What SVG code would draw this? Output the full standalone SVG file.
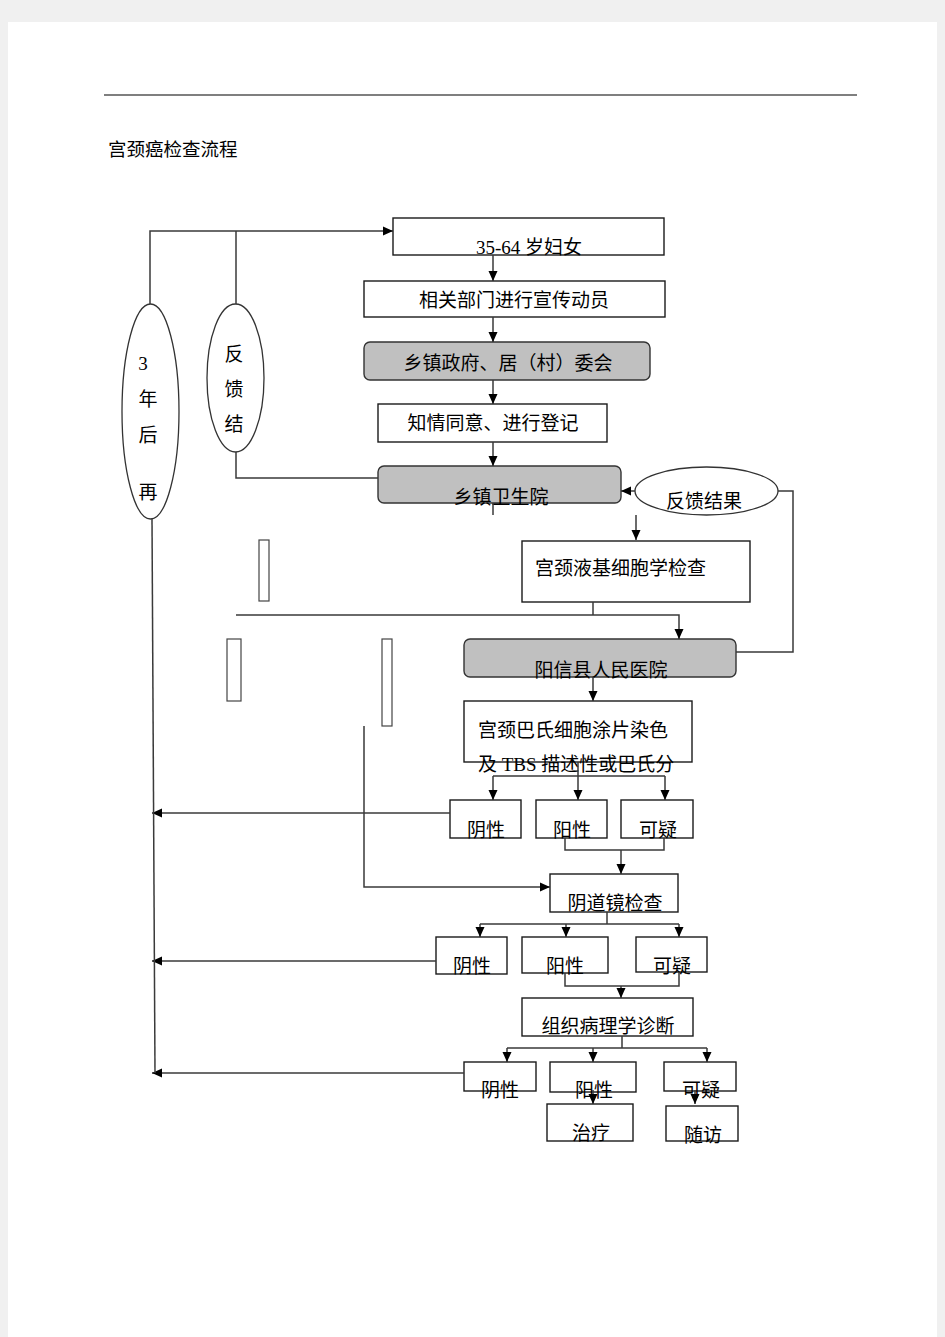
<svg xmlns="http://www.w3.org/2000/svg" width="945" height="1337" viewBox="0 0 945 1337">
<style>
.bg{fill:#f0f0f0}
.page{fill:#ffffff}
.box{fill:#ffffff;stroke:#1a1a1a;stroke-width:1.4}
.gbox{fill:#c0c0c0;stroke:#333333;stroke-width:1.4}
.thin{fill:#ffffff;stroke:#444444;stroke-width:1.2}
.t{font-family:"Liberation Serif","Noto Sans CJK SC",serif;font-size:19px;fill:#000000}
.c{text-anchor:middle}
.ln{fill:none;stroke:#3a3a3a;stroke-width:1.5}
.ar{fill:none;stroke:#3a3a3a;stroke-width:1.5;marker-end:url(#arr)}
</style>
<defs>
<marker id="arr" markerUnits="userSpaceOnUse" markerWidth="10" markerHeight="10" refX="10" refY="5" orient="auto">
<path d="M0,0.5 L10,5 L0,9.5 z" fill="#000000"/>
</marker>
</defs>
<rect class="bg" x="0" y="0" width="945" height="1337"/>
<rect class="page" x="8" y="22" width="929" height="1315"/>
<line x1="104" y1="95" x2="857" y2="95" stroke="#000" stroke-width="1.2"/>
<text class="t" x="108" y="156" style="font-size:18.5px">宫颈癌检查流程</text>

<g id="n_women"><rect class="box" x="393" y="218" width="271" height="37"/><text class="t c" x="529" y="254">35-64 岁妇女</text></g>
<g id="n_publicity"><rect class="box" x="364" y="281" width="301" height="36"/><text class="t c" x="514" y="307">相关部门进行宣传动员</text></g>
<g id="n_gov"><rect class="gbox" x="364" y="342" width="286" height="38" rx="6"/><text class="t c" x="508" y="370">乡镇政府、居（村）委会</text></g>
<g id="n_consent"><rect class="box" x="378" y="404" width="229" height="38"/><text class="t c" x="493" y="430">知情同意、进行登记</text></g>
<g id="n_township"><rect class="gbox" x="378" y="466" width="243" height="37" rx="6"/><text class="t c" x="501" y="504">乡镇卫生院</text></g>
<g id="n_feedback_result"><ellipse cx="706.5" cy="491" rx="71.5" ry="24" fill="#fff" stroke="#333" stroke-width="1.3"/><text class="t c" x="704" y="508">反馈结果</text></g>
<g id="n_three_years"><ellipse cx="150.5" cy="411.5" rx="28.5" ry="107.5" fill="#fff" stroke="#333" stroke-width="1.3"/>
<text class="t c" x="143" y="370">3</text><text class="t c" x="148" y="406">年</text><text class="t c" x="148" y="442">后</text><text class="t c" x="148" y="499">再</text></g>
<g id="n_feedback"><ellipse cx="235.5" cy="378" rx="28.5" ry="74" fill="#fff" stroke="#333" stroke-width="1.3"/>
<text class="t c" x="234" y="361">反</text><text class="t c" x="234" y="396">馈</text><text class="t c" x="234" y="431">结</text></g>
<g id="n_lbc"><rect class="box" x="522" y="541" width="228" height="61"/><text class="t" x="535" y="575">宫颈液基细胞学检查</text></g>
<g id="n_bar1"><rect class="thin" x="259" y="540" width="10" height="61"/></g>
<g id="n_bar2"><rect class="thin" x="227" y="639" width="14" height="62"/></g>
<g id="n_bar3"><rect class="thin" x="382" y="639" width="10" height="87"/></g>
<g id="n_county"><rect class="gbox" x="464" y="639" width="272" height="38" rx="6"/><text class="t c" x="601" y="677">阳信县人民医院</text></g>
<g id="n_pap"><rect class="box" x="464" y="701" width="228" height="61"/><text class="t" x="478" y="737">宫颈巴氏细胞涂片染色</text><text class="t" x="478" y="771">及 TBS 描述性或巴氏分</text></g>
<g id="n_r1_neg"><rect class="box" x="450" y="800" width="71" height="38"/><text class="t c" x="486" y="837">阴性</text></g>
<g id="n_r1_pos"><rect class="box" x="536" y="800" width="71" height="38"/><text class="t c" x="572" y="837">阳性</text></g>
<g id="n_r1_sus"><rect class="box" x="621" y="800" width="72" height="38"/><text class="t c" x="658" y="837">可疑</text></g>
<g id="n_colpo"><rect class="box" x="550" y="874" width="128" height="38"/><text class="t c" x="615" y="910">阴道镜检查</text></g>
<g id="n_r2_neg"><rect class="box" x="436" y="937" width="71" height="37"/><text class="t c" x="472" y="973">阴性</text></g>
<g id="n_r2_pos"><rect class="box" x="522" y="937" width="86" height="36"/><text class="t c" x="565" y="973">阳性</text></g>
<g id="n_r2_sus"><rect class="box" x="636" y="937" width="71" height="35"/><text class="t c" x="672" y="973">可疑</text></g>
<g id="n_patho"><rect class="box" x="522" y="998" width="171" height="38"/><text class="t c" x="608" y="1033">组织病理学诊断</text></g>
<g id="n_r3_neg"><rect class="box" x="464" y="1062" width="72" height="29"/><text class="t c" x="500" y="1097">阴性</text></g>
<g id="n_r3_pos"><rect class="box" x="550" y="1062" width="86" height="30"/><text class="t c" x="594" y="1097">阳性</text></g>
<g id="n_r3_sus"><rect class="box" x="664" y="1062" width="72" height="29"/><text class="t c" x="701" y="1097">可疑</text></g>
<g id="n_treat"><rect class="box" x="547" y="1104" width="86" height="37"/><text class="t c" x="591" y="1140">治疗</text></g>
<g id="n_follow"><rect class="box" x="666" y="1106" width="72" height="35"/><text class="t c" x="703" y="1142">随访</text></g>

<g id="connectors">
<path class="ar" d="M150,304 V231 H393"/>
<path class="ln" d="M236,304 V231"/>
<path class="ln" d="M236,452 V478 H378"/>
<path class="ar" d="M493,255 V281"/>
<path class="ar" d="M493,317 V342"/>
<path class="ar" d="M493,380 V404"/>
<path class="ar" d="M493,442 V466"/>
<path class="ln" d="M493,503 V515"/>
<path class="ar" d="M635,491 H621"/>
<path class="ln" d="M778,491 H793 V652 H736"/>
<path class="ar" d="M636,515 V540"/>
<path class="ln" d="M593,602 V615"/>
<path class="ar" d="M236,615 H679 V639"/>
<path class="ar" d="M364,726 V887 H550"/>
<path class="ar" d="M593,677 V701"/>
<path class="ln" d="M578,762 V776 M493,776 H665"/>
<path class="ar" d="M493,776 V800"/>
<path class="ar" d="M578,776 V800"/>
<path class="ar" d="M665,776 V800"/>
<path class="ar" d="M450,813 H152"/>
<path class="ln" d="M565,838 V850 H664 V838"/>
<path class="ar" d="M621,850 V874"/>
<path class="ln" d="M607,912 V924 M480,924 H679"/>
<path class="ar" d="M480,924 V937"/>
<path class="ar" d="M566,924 V937"/>
<path class="ar" d="M679,924 V937"/>
<path class="ar" d="M436,961 H152"/>
<path class="ln" d="M565,973 V986 H679 V972"/>
<path class="ar" d="M621,986 V998"/>
<path class="ln" d="M622,1036 V1048 M507,1048 H707"/>
<path class="ar" d="M507,1048 V1062"/>
<path class="ar" d="M593,1048 V1062"/>
<path class="ar" d="M707,1048 V1062"/>
<path class="ar" d="M464,1073 H152"/>
<path class="ar" d="M593,1090 V1104"/>
<path class="ar" d="M695,1090 V1104"/>
<path class="ln" d="M152,519 L155,1073"/>
</g>
</svg>
